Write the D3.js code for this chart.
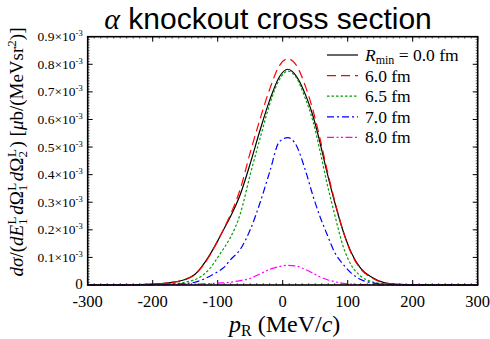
<!DOCTYPE html>
<html>
<head>
<meta charset="utf-8">
<script src="https://cdn.jsdelivr.net/npm/d3@7"></script>
<style>
  body { margin: 0; background: #fff; }
  svg { display: block; }
  .serif { font-family: "Liberation Serif", "DejaVu Serif", serif; }
</style>
</head>
<body>
<div id="chart"></div>
<script>
// momentum grid (MeV/c)
const pR = [-300, -250, -200, -175, -150, -137, -125, -112, -100, -90, -81, -65, -50, -35, -20, -5, 8,
  20, 35, 47, 57, 68, 80, 93, 106, 120, 137, 157, 180, 200, 250, 300];

// cross sections, in units of 1e-3 µb/(MeV sr^2)
const rmin00 = [0, 0.0005, 0.003, 0.008, 0.02, 0.035, 0.065, 0.11, 0.16, 0.205, 0.245, 0.33, 0.44, 0.56, 0.67, 0.755, 0.782,
  0.76, 0.69, 0.61, 0.52, 0.41, 0.30, 0.195, 0.115, 0.06, 0.028, 0.008, 0.002, 0.0008, 0.0002, 0];
const rmin60 = [0, 0.0005, 0.003, 0.008, 0.019, 0.034, 0.063, 0.108, 0.16, 0.207, 0.252, 0.35, 0.48, 0.60, 0.71, 0.795, 0.82,
  0.80, 0.72, 0.63, 0.535, 0.42, 0.305, 0.195, 0.112, 0.058, 0.026, 0.007, 0.002, 0.0008, 0.0002, 0];
const rmin65 = [0, 0.0003, 0.0015, 0.004, 0.01, 0.018, 0.032, 0.06, 0.10, 0.135, 0.17, 0.26, 0.40, 0.53, 0.655, 0.745, 0.775,
  0.755, 0.675, 0.59, 0.49, 0.37, 0.255, 0.14, 0.07, 0.032, 0.012, 0.004, 0.001, 0.0005, 0.0001, 0];
const rmin70 = [0, 0.0002, 0.001, 0.002, 0.005, 0.009, 0.018, 0.032, 0.048, 0.065, 0.09, 0.13, 0.2, 0.297, 0.41, 0.52, 0.534,
  0.51, 0.415, 0.32, 0.25, 0.185, 0.118, 0.075, 0.042, 0.02, 0.008, 0.003, 0.001, 0.0003, 0.0001, 0];
const rmin80 = [0, 0.0002, 0.001, 0.0015, 0.002, 0.003, 0.004, 0.005, 0.007, 0.008, 0.01, 0.016, 0.024, 0.04, 0.057, 0.067, 0.0714,
  0.069, 0.056, 0.042, 0.03, 0.02, 0.012, 0.006, 0.003, 0.0015, 0.001, 0.0005, 0.0002, 0.0001, 0, 0];

const legendLabels = ['0.0', '6.0', '6.5', '7.0', '8.0'];
const xTicks = [-300, -200, -100, 0, 100, 200, 300];
const yTicks = [0, 0.1, 0.2, 0.3, 0.4, 0.5, 0.6, 0.7, 0.8, 0.9];

const series = [
  { vals: rmin00, color: '#000000', dash: null },
  { vals: rmin60, color: '#ff0000', dash: '9,5' },
  { vals: rmin65, color: '#00a000', dash: '2.5,2' },
  { vals: rmin70, color: '#0000ff', dash: '7,3,2,3' },
  { vals: rmin80, color: '#ff00ff', dash: '7,2.5,2,2.5,2,2.5' }
];

const W = 490, H = 339;
const margin = {top: 36.7, right: 12.3, bottom: 54, left: 87.7};
const width = W - margin.left - margin.right;
const height = H - margin.top - margin.bottom;

const svg = d3.select('#chart')
  .append('svg')
  .attr('width', W)
  .attr('height', H);

const g = svg.append('g')
  .attr('transform', 'translate(' + margin.left + ',' + margin.top + ')');

const x = d3.scaleLinear().domain([-300, 300]).range([0, width]);
const y = d3.scaleLinear().domain([0, 0.9]).range([height, 0]);

// minor ticks
const minorX = d3.range(-300, 301, 10);
const minorY = d3.range(0, 0.9001, 0.01);
const ticks = g.append('g').attr('stroke', '#000');
minorX.forEach(v => {
  ticks.append('line').attr('x1', x(v)).attr('x2', x(v)).attr('y1', height).attr('y2', height - 2).attr('stroke-width', 0.6);
  ticks.append('line').attr('x1', x(v)).attr('x2', x(v)).attr('y1', 0).attr('y2', 2).attr('stroke-width', 0.6);
});
minorY.forEach(v => {
  ticks.append('line').attr('x1', 0).attr('x2', 2).attr('y1', y(v)).attr('y2', y(v)).attr('stroke-width', 0.6);
  ticks.append('line').attr('x1', width).attr('x2', width - 2).attr('y1', y(v)).attr('y2', y(v)).attr('stroke-width', 0.6);
});
// major ticks
xTicks.forEach(v => {
  ticks.append('line').attr('x1', x(v)).attr('x2', x(v)).attr('y1', height).attr('y2', height - 5).attr('stroke-width', 1);
  ticks.append('line').attr('x1', x(v)).attr('x2', x(v)).attr('y1', 0).attr('y2', 5).attr('stroke-width', 1);
});
yTicks.forEach(v => {
  ticks.append('line').attr('x1', 0).attr('x2', 5).attr('y1', y(v)).attr('y2', y(v)).attr('stroke-width', 1);
  ticks.append('line').attr('x1', width).attr('x2', width - 5).attr('y1', y(v)).attr('y2', y(v)).attr('stroke-width', 1);
});

// curves
const line = d3.line()
  .x((d, i) => x(pR[i]))
  .y(d => y(d))
  .curve(d3.curveMonotoneX);

series.forEach(s => {
  g.append('path')
    .attr('d', line(s.vals))
    .attr('fill', 'none')
    .attr('stroke', s.color)
    .attr('stroke-width', 1.2)
    .attr('stroke-dasharray', s.dash);
});

// frame
g.append('rect')
  .attr('width', width).attr('height', height)
  .attr('fill', 'none').attr('stroke', '#000').attr('stroke-width', 1.6);

// x tick labels
g.append('g').selectAll('text')
  .data(xTicks).enter().append('text')
  .attr('class', 'serif')
  .attr('x', d => x(d))
  .attr('y', height + 22)
  .attr('text-anchor', 'middle')
  .attr('font-size', 16.5)
  .text(d => d < 0 ? '-' + Math.abs(d) : d);

// y tick labels
const yl = g.append('g').selectAll('text')
  .data(yTicks).enter().append('text')
  .attr('class', 'serif')
  .attr('x', -5)
  .attr('y', d => y(d) + 4.5)
  .attr('text-anchor', 'end')
  .attr('font-size', 13.5);
yl.each(function(d) {
  const t = d3.select(this);
  if (d === 0) { t.attr('font-size', 15).text('0'); return; }
  t.append('tspan').text(d.toFixed(1) + '×10');
  t.append('tspan').attr('dy', -5).attr('font-size', 8.5).text('-3');
});

// legend
const leg = g.append('g').attr('transform', 'translate(' + (327 - margin.left) + ',' + (55 - margin.top) + ')');
series.forEach((s, i) => {
  const row = leg.append('g').attr('transform', 'translate(0,' + (i * 20.6) + ')');
  row.append('line').attr('x1', 0).attr('x2', 31).attr('y1', 0).attr('y2', 0)
    .attr('stroke', s.color).attr('stroke-width', 1.2).attr('stroke-dasharray', s.dash);
  const t = row.append('text').attr('class', 'serif').attr('x', 38).attr('y', 6).attr('font-size', 17.5);
  if (i === 0) {
    t.append('tspan').attr('font-style', 'italic').text('R');
    t.append('tspan').attr('dy', 3).attr('font-size', 12).text('min');
    t.append('tspan').attr('dy', -3).text(' = ' + legendLabels[i] + ' fm');
  } else {
    t.text(legendLabels[i] + ' fm');
  }
});

// title
const title = svg.append('text')
  .attr('x', 268).attr('y', 29)
  .attr('text-anchor', 'middle')
  .attr('font-size', 30);
title.append('tspan').attr('class', 'serif').attr('font-style', 'italic').text('α');
title.append('tspan').attr('font-family', 'Liberation Sans, sans-serif').text(' knockout cross section');

// x label
const xl = svg.append('text')
  .attr('class', 'serif')
  .attr('x', margin.left + width / 2 + 2).attr('y', 332)
  .attr('text-anchor', 'middle')
  .attr('font-size', 24);
xl.append('tspan').attr('font-style', 'italic').text('p');
xl.append('tspan').attr('dy', 4).attr('font-size', 16).text('R');
xl.append('tspan').attr('dy', -4).text(' (MeV/');
xl.append('tspan').attr('font-style', 'italic').text('c');
xl.append('tspan').text(')');

// y label
const ylab = svg.append('text')
  .attr('class', 'serif')
  .attr('transform', 'translate(23,' + 152 + ') rotate(-90)')
  .attr('text-anchor', 'middle')
  .attr('font-size', 19);
const it = (s) => ylab.append('tspan').attr('font-style', 'italic').text(s);
const rm = (s) => ylab.append('tspan').text(s);
const sub = (s) => ylab.append('tspan').attr('dy', 4).attr('font-size', 13).text(s);
const supAfterSub = (s) => ylab.append('tspan').attr('dy', -11).attr('dx', -6).attr('font-size', 13).text(s);
const back = () => ylab.append('tspan').attr('dy', 7).text('\u200a');
it('dσ'); rm('/('); it('dE'); sub('1'); supAfterSub('L'); back();
it('d'); rm('Ω'); sub('1'); supAfterSub('L'); back();
it('d'); rm('Ω'); sub('2'); supAfterSub('L'); back();
rm(') ['); it('μ'); rm('b/(MeVsr'); ylab.append('tspan').attr('dy', -7).attr('font-size', 13).text('2');
ylab.append('tspan').attr('dy', 7).text(')]');
</script>
</body>
</html>
